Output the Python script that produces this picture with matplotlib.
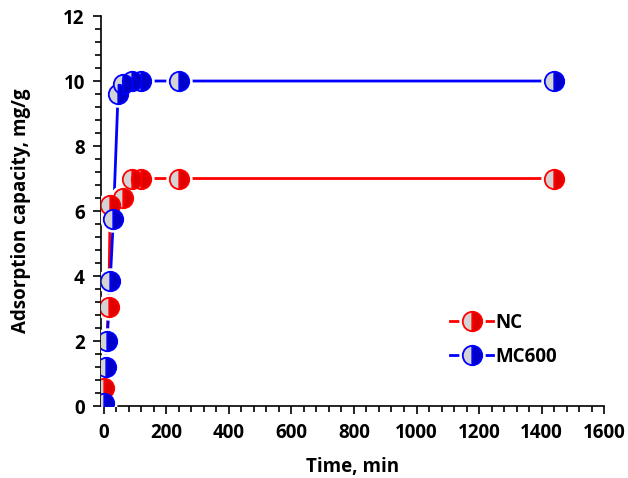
import matplotlib.pyplot as plt
from matplotlib.legend_handler import HandlerTuple
from matplotlib.ticker import MultipleLocator

# data
nc_time = [0, 15, 20, 60, 90, 120, 240, 1440]
nc_q = [0.55, 3.05, 6.2, 6.4, 7.0, 7.0, 7.0, 7.0]

mc_time = [0, 5, 10, 20, 30, 45, 60, 90, 120, 240, 1440]
mc_q = [0.1, 1.2, 2.0, 3.85, 5.75, 9.6, 9.9, 10.0, 10.0, 10.0, 10.0]

x_ticks = [0, 200, 400, 600, 800, 1000, 1200, 1400, 1600]
y_ticks = [0, 2, 4, 6, 8, 10, 12]

plt.rcParams['font.family'] = ['Open Sans', 'DejaVu Sans']
plt.rcParams['font.weight'] = 'bold'

FS = 13.5


def series(ax, t, q, color, dark):
    '''Line with half-shaded round markers and a white gap around them'''
    line, = ax.plot(t, q, color=color, lw=2, zorder=2)
    halo, = ax.plot(t, q, ls='none', marker='o', ms=18, mfc='white',
                    mec='white', zorder=3)
    mark, = ax.plot(t, q, ls='none', marker='o', ms=14, fillstyle='left',
                    mfc='#d4d4d4', mfcalt=dark, mec=color, mew=1.3,
                    zorder=4)
    return (line, halo, mark)


fig = plt.figure(figsize=(6.28, 4.78), dpi=100)
ax = fig.add_axes([0.1616, 0.1506, 0.8002, 0.8159])

h1 = series(ax, nc_time, nc_q, '#ff0000', '#e00000')
h2 = series(ax, mc_time, mc_q, '#0000ff', '#0000c8')

ax.set_xlim(-8, 1600)
ax.set_ylim(0, 12)
ax.set_xticks(x_ticks)
ax.set_yticks(y_ticks)
ax.xaxis.set_minor_locator(MultipleLocator(40))
ax.yaxis.set_minor_locator(MultipleLocator(0.4))
ax.tick_params(which='major', direction='out', length=6, width=1.2,
               labelsize=FS, pad=6)
ax.tick_params(which='minor', direction='out', length=4, width=1.2)
for k in ax.get_xticklabels() + ax.get_yticklabels():
    k.set_fontweight('bold')

for side in ['top', 'right']:
    ax.spines[side].set_visible(False)
for side in ['left', 'bottom']:
    ax.spines[side].set_linewidth(1.2)

ax.set_xlabel("Time, min", fontsize=FS, fontweight='bold', labelpad=10)
ax.set_ylabel("Adsorption capacity, mg/g", fontsize=FS,
              fontweight='bold', labelpad=23)

ax.legend([h1, h2], ['NC', 'MC600'],
          handler_map={tuple: HandlerTuple(ndivide=1)},
          loc='center left', bbox_to_anchor=(0.66, 0.17), frameon=False,
          handlelength=2.3, labelspacing=0.75, handletextpad=0.1,
          prop={'size': FS, 'weight': 'bold'})

fig.savefig("out.png", dpi=100)
